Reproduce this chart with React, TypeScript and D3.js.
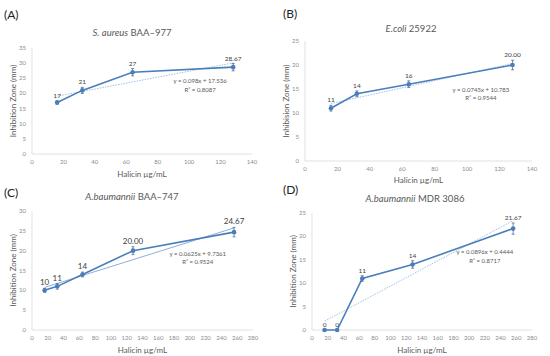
import React from "react";
import * as d3 from "d3";

// concentrations (µg/mL)
const concA = [16, 32, 64, 128];
const concB = [16, 32, 64, 128];
const concC = [16, 32, 64, 128, 256];
const concD = [16, 32, 64, 128, 256];

// inhibition zone means (mm)
const zoneA = [17, 21, 27, 28.67];
const zoneB = [11, 14, 16, 20];
const zoneC = [10, 11, 14, 20, 24.67];
const zoneD = [0, 0, 11, 14, 21.67];

// error bar half-heights (mm)
const errA = [0.6, 1, 1.2, 1.2];
const errB = [0.6, 0.6, 0.7, 1];
const errC = [0.5, 0.7, 0.6, 1, 1.2];
const errD = [0, 0, 0.6, 0.8, 1.2];

// point labels
const labelsA = ["17", "21", "27", "28.67"];
const labelsB = ["11", "14", "16", "20.00"];
const labelsC = ["10", "11", "14", "20.00", "24.67"];
const labelsD = ["0", "0", "11", "14", "21.67"];

// linear trend [slope, intercept]
const trendA = [0.098, 17.536];
const trendB = [0.0745, 10.783];
const trendC = [0.0625, 9.7361];
const trendD = [0.0896, 0.4444];
const eqA = ["y = 0.098x + 17.536", "R² = 0.8087"];
const eqB = ["y = 0.0745x + 10.783", "R² = 0.9544"];
const eqC = ["y = 0.0625x + 9.7361", "R² = 0.9524"];
const eqD = ["y = 0.0896x + 0.4444", "R² = 0.8717"];

// ticks
const xTicks140 = [0, 20, 40, 60, 80, 100, 120, 140];
const xTicks280 = [0, 20, 40, 60, 80, 100, 120, 140, 160, 180, 200, 220, 240, 260, 280];
const yTicks35 = [0, 5, 10, 15, 20, 25, 30, 35];
const yTicks30 = [0, 5, 10, 15, 20, 25, 30];
const yTicks25 = [0, 5, 10, 15, 20, 25];

const FONT = "Lato, 'Open Sans', sans-serif";
const LINE = "#4a7ebb";
const TREND = "#9dc3e6";

function Panel(props: any) {
  const {
    tag, tagPos, titleItalic, titleRest, titlePos, titleSize,
    left, right, top, bottom, xMax, yMax, xTicks, yTicks,
    xs, ys, errs, labels, labelSize, trend, trendSolid, eq, eqAt,
    yTitle, yTitleX, xTitleY,
  } = props;
  const x = d3.scaleLinear().domain([0, xMax]).range([left, right]);
  const y = d3.scaleLinear().domain([0, yMax]).range([bottom, top]);
  const line = d3.line<number>().x((_, i) => x(xs[i])).y((d) => y(d));
  const tx0 = xs[0];
  const tx1 = xs[xs.length - 1];
  const midY = (top + bottom) / 2;
  const midX = (left + right) / 2;

  return (
    <g fontFamily={FONT}>
      <text x={tagPos[0]} y={tagPos[1]} fontSize={12} fill="#222">{tag}</text>
      <text x={titlePos[0]} y={titlePos[1]} fontSize={titleSize} fill="#595959" textAnchor="middle">
        <tspan fontStyle="italic">{titleItalic}</tspan>
        <tspan>{titleRest}</tspan>
      </text>

      {/* axes */}
      <line x1={left} x2={left} y1={top} y2={bottom} stroke="#d9d9d9" strokeWidth={0.8} />
      <line x1={left} x2={right} y1={bottom} y2={bottom} stroke="#d9d9d9" strokeWidth={0.8} />
      {yTicks.map((t: number) => (
        <text key={"y" + t} x={left - 6} y={y(t) + 2} fontSize={6} fill="#8c8c8c" textAnchor="end">{t}</text>
      ))}
      {xTicks.map((t: number) => (
        <text key={"x" + t} x={x(t)} y={bottom + 10} fontSize={6} fill="#8c8c8c" textAnchor="middle">{t}</text>
      ))}
      <text x={midX} y={xTitleY} fontSize={8} fill="#595959" textAnchor="middle">Halicin µg/mL</text>
      <text transform={`translate(${yTitleX},${midY}) rotate(-90)`} fontSize={8} fill="#595959" textAnchor="middle">{yTitle}</text>

      {/* trend line */}
      <line
        x1={x(tx0)} y1={y(trend[0] * tx0 + trend[1])}
        x2={x(tx1)} y2={y(trend[0] * tx1 + trend[1])}
        stroke={trendSolid ? "#6f9bd0" : TREND}
        strokeWidth={trendSolid ? 0.8 : 1}
        strokeDasharray={trendSolid ? undefined : "1.5,1.2"}
      />

      {/* series */}
      <path d={line(ys) || ""} fill="none" stroke={LINE} strokeWidth={1.6} />
      {ys.map((v: number, i: number) => (
        <g key={i}>
          {errs[i] > 0 && (
            <g stroke="#3f5f86" strokeWidth={0.7}>
              <line x1={x(xs[i])} x2={x(xs[i])} y1={y(v - errs[i])} y2={y(v + errs[i])} />
              <line x1={x(xs[i]) - 1.5} x2={x(xs[i]) + 1.5} y1={y(v - errs[i])} y2={y(v - errs[i])} />
              <line x1={x(xs[i]) - 1.5} x2={x(xs[i]) + 1.5} y1={y(v + errs[i])} y2={y(v + errs[i])} />
            </g>
          )}
          <circle cx={x(xs[i])} cy={y(v)} r={2.3} fill={LINE} />
          <text x={x(xs[i])} y={y(v + errs[i]) - 3} fontSize={labelSize} fill="#404040" textAnchor="middle">{labels[i]}</text>
        </g>
      ))}

      <text x={x(eqAt[0])} y={y(eqAt[1])} fontSize={6} fill="#595959" textAnchor="middle">{eq[0]}</text>
      <text x={x(eqAt[0])} y={y(eqAt[1]) + 8.5} fontSize={6} fill="#595959" textAnchor="middle">{eq[1]}</text>
    </g>
  );
}

export default function App() {
  return (
    <svg width={550} height={356} style={{ position: "absolute", left: 0, top: 0, background: "#fff" }}>
      <rect width={550} height={356} fill="#fff" />
      <Panel
        tag="(A)" tagPos={[4, 19]} titleItalic="S. aureus" titleRest=" BAA–977" titlePos={[132, 36]} titleSize={9.5}
        left={32} right={252} top={48} bottom={154} xMax={140} yMax={35} xTicks={xTicks140} yTicks={yTicks35}
        xs={concA} ys={zoneA} errs={errA} labels={labelsA} labelSize={6.5}
        trend={trendA} trendSolid={false} eq={eqA} eqAt={[107, 23.4]}
        yTitle="Inhibition Zone (mm)" yTitleX={16} xTitleY={177}
      />
      <Panel
        tag="(B)" tagPos={[283, 18]} titleItalic="E.coli" titleRest=" 25922" titlePos={[411, 32]} titleSize={9.5}
        left={305} right={532} top={41} bottom={161} xMax={140} yMax={25} xTicks={xTicks140} yTicks={yTicks25}
        xs={concB} ys={zoneB} errs={errB} labels={labelsB} labelSize={6.5}
        trend={trendB} trendSolid={false} eq={eqB} eqAt={[108.5, 14.4]}
        yTitle="Inhibision Zone (mm)" yTitleX={289} xTitleY={183}
      />
      <Panel
        tag="(C)" tagPos={[4, 197]} titleItalic="A.baumannii" titleRest=" BAA–747" titlePos={[132, 200]} titleSize={9.5}
        left={32} right={253} top={211} bottom={330} xMax={280} yMax={30} xTicks={xTicks280} yTicks={yTicks30}
        xs={concC} ys={zoneC} errs={errC} labels={labelsC} labelSize={8}
        trend={trendC} trendSolid={true} eq={eqC} eqAt={[210, 18.7]}
        yTitle="Inhibition Zone (mm)" yTitleX={16} xTitleY={353}
      />
      <Panel
        tag="(D)" tagPos={[283, 194]} titleItalic="A.baumannii" titleRest=" MDR 3086" titlePos={[415, 202]} titleSize={9.5}
        left={312} right={532} top={213} bottom={330} xMax={280} yMax={25} xTicks={xTicks280} yTicks={yTicks25}
        xs={concD} ys={zoneD} errs={errD} labels={labelsD} labelSize={6.5}
        trend={trendD} trendSolid={false} eq={eqD} eqAt={[220, 16.2]}
        yTitle="Inhibition Zone (mm)" yTitleX={296} xTitleY={353}
      />
    </svg>
  );
}
